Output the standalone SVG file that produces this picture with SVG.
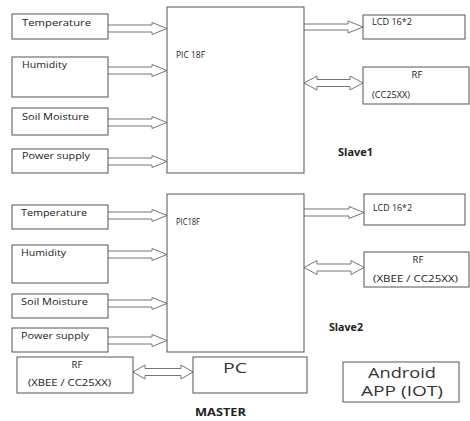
<svg xmlns="http://www.w3.org/2000/svg" width="470" height="421" viewBox="0 0 470 421">
<style>
.box{fill:#fff;stroke:#555;stroke-width:1}
.arr{fill:#fff;stroke:#777;stroke-width:1}
.t{font-family:"Open Sans","Liberation Sans",sans-serif;font-size:9.5px;fill:#222}
.b{font-family:"Open Sans","Liberation Sans",sans-serif;font-size:10px;font-weight:bold;fill:#222}
.l{font-family:"Open Sans","Liberation Sans",sans-serif;font-size:14px;fill:#333}
</style>
<rect width="470" height="421" fill="#fff"/>
<g id="connectors">
  <path class="arr" d="M108 25H152V22.5L167 28.5L152 34.5V32H108"/>
  <path class="arr" d="M108 67H152V64.5L167 70.5L152 76.5V74H108"/>
  <path class="arr" d="M108 119H152V116.5L167 122.5L152 128.5V126H108"/>
  <path class="arr" d="M108 158H152V155.5L167 161.5L152 167.5V165H108"/>
  <path class="arr" d="M304 24H348V21L363 27L348 33V30H304"/>
  <path class="arr" d="M304 83L317 76V79.5H350V76L363 83L350 90V86.5H317V90Z"/>
  <path class="arr" d="M108 212H152V209.5L167 215.5L152 221.5V219H108"/>
  <path class="arr" d="M108 251H152V248.5L167 254.5L152 260.5V258H108"/>
  <path class="arr" d="M108 300H152V297.5L167 303.5L152 309.5V307H108"/>
  <path class="arr" d="M108 337H152V334.5L167 340.5L152 346.5V344H108"/>
  <path class="arr" d="M304 209H349V206.5L364 212.5L349 218.5V216H304"/>
  <path class="arr" d="M304 267.5L317 260.5V264H351V260.5L364 267.5L351 274.5V271H317V274.5Z"/>
  <path class="arr" d="M133 372L145 365V368.5H181V365L193 372L181 379V375.5H145V379Z"/>
</g>
<g id="s1-temp"><rect class="box" x="12" y="14" width="96" height="25"/><text class="t" x="22" y="26" textLength="69" lengthAdjust="spacingAndGlyphs">Temperature</text></g>
<g id="s1-hum"><rect class="box" x="12" y="57" width="96" height="40"/><text class="t" x="22" y="68" textLength="45" lengthAdjust="spacingAndGlyphs">Humidity</text></g>
<g id="s1-soil"><rect class="box" x="12" y="108" width="96" height="27"/><text class="t" x="22" y="120" textLength="67" lengthAdjust="spacingAndGlyphs">Soil Moisture</text></g>
<g id="s1-power"><rect class="box" x="12" y="149" width="96" height="24"/><text class="t" x="22" y="159" textLength="68" lengthAdjust="spacingAndGlyphs">Power supply</text></g>
<g id="s1-pic"><rect class="box" x="167" y="7" width="137" height="166"/><text class="t" x="176" y="58" textLength="29" lengthAdjust="spacingAndGlyphs">PIC 18F</text></g>
<g id="s1-lcd"><rect class="box" x="363" y="15" width="102" height="24"/><text class="t" x="372" y="25" textLength="40" lengthAdjust="spacingAndGlyphs">LCD 16*2</text></g>
<g id="s1-rf"><rect class="box" x="363" y="67" width="106" height="37"/><text class="t" x="417" y="78" text-anchor="middle">RF</text><text class="t" x="372" y="98" textLength="38" lengthAdjust="spacingAndGlyphs">(CC25XX)</text></g>
<g id="slave1"><text class="b" x="338" y="156" textLength="35" lengthAdjust="spacingAndGlyphs">Slave1</text></g>
<g id="s2-temp"><rect class="box" x="12" y="205" width="96" height="24"/><text class="t" x="21" y="216" textLength="66" lengthAdjust="spacingAndGlyphs">Temperature</text></g>
<g id="s2-hum"><rect class="box" x="12" y="245" width="96" height="38"/><text class="t" x="21" y="256" textLength="45" lengthAdjust="spacingAndGlyphs">Humidity</text></g>
<g id="s2-soil"><rect class="box" x="12" y="294" width="96" height="24"/><text class="t" x="21" y="305" textLength="67" lengthAdjust="spacingAndGlyphs">Soil Moisture</text></g>
<g id="s2-power"><rect class="box" x="12" y="328" width="96" height="24"/><text class="t" x="21" y="339" textLength="68" lengthAdjust="spacingAndGlyphs">Power supply</text></g>
<g id="s2-pic"><rect class="box" x="167" y="194" width="137" height="158"/><text class="t" x="176" y="225" textLength="24" lengthAdjust="spacingAndGlyphs">PIC18F</text></g>
<g id="s2-lcd"><rect class="box" x="364" y="194" width="101" height="31"/><text class="t" x="373" y="211" textLength="39" lengthAdjust="spacingAndGlyphs">LCD 16*2</text></g>
<g id="s2-rf"><rect class="box" x="364" y="252" width="105" height="35"/><text class="t" x="418" y="263" text-anchor="middle">RF</text><text class="t" x="373" y="282" textLength="85" lengthAdjust="spacingAndGlyphs">(XBEE / CC25XX)</text></g>
<g id="slave2"><text class="b" x="329" y="331" textLength="34" lengthAdjust="spacingAndGlyphs">Slave2</text></g>
<g id="m-rf"><rect class="box" x="17" y="357" width="116" height="36"/><text class="t" x="77" y="368" text-anchor="middle">RF</text><text class="t" x="28" y="386" textLength="83" lengthAdjust="spacingAndGlyphs">(XBEE / CC25XX)</text></g>
<g id="m-pc"><rect class="box" x="193" y="357" width="114" height="36"/><text class="l" x="223" y="373" font-size="13" textLength="24" lengthAdjust="spacingAndGlyphs">PC</text></g>
<g id="master"><text class="b" x="195" y="416" textLength="51" lengthAdjust="spacingAndGlyphs">MASTER</text></g>
<g id="android"><rect class="box" x="343" y="362" width="116" height="40"/><text class="l" x="368" y="378" textLength="68" lengthAdjust="spacingAndGlyphs">Android</text><text class="l" x="361" y="396" textLength="82" lengthAdjust="spacingAndGlyphs">APP (IOT)</text></g>
</svg>
